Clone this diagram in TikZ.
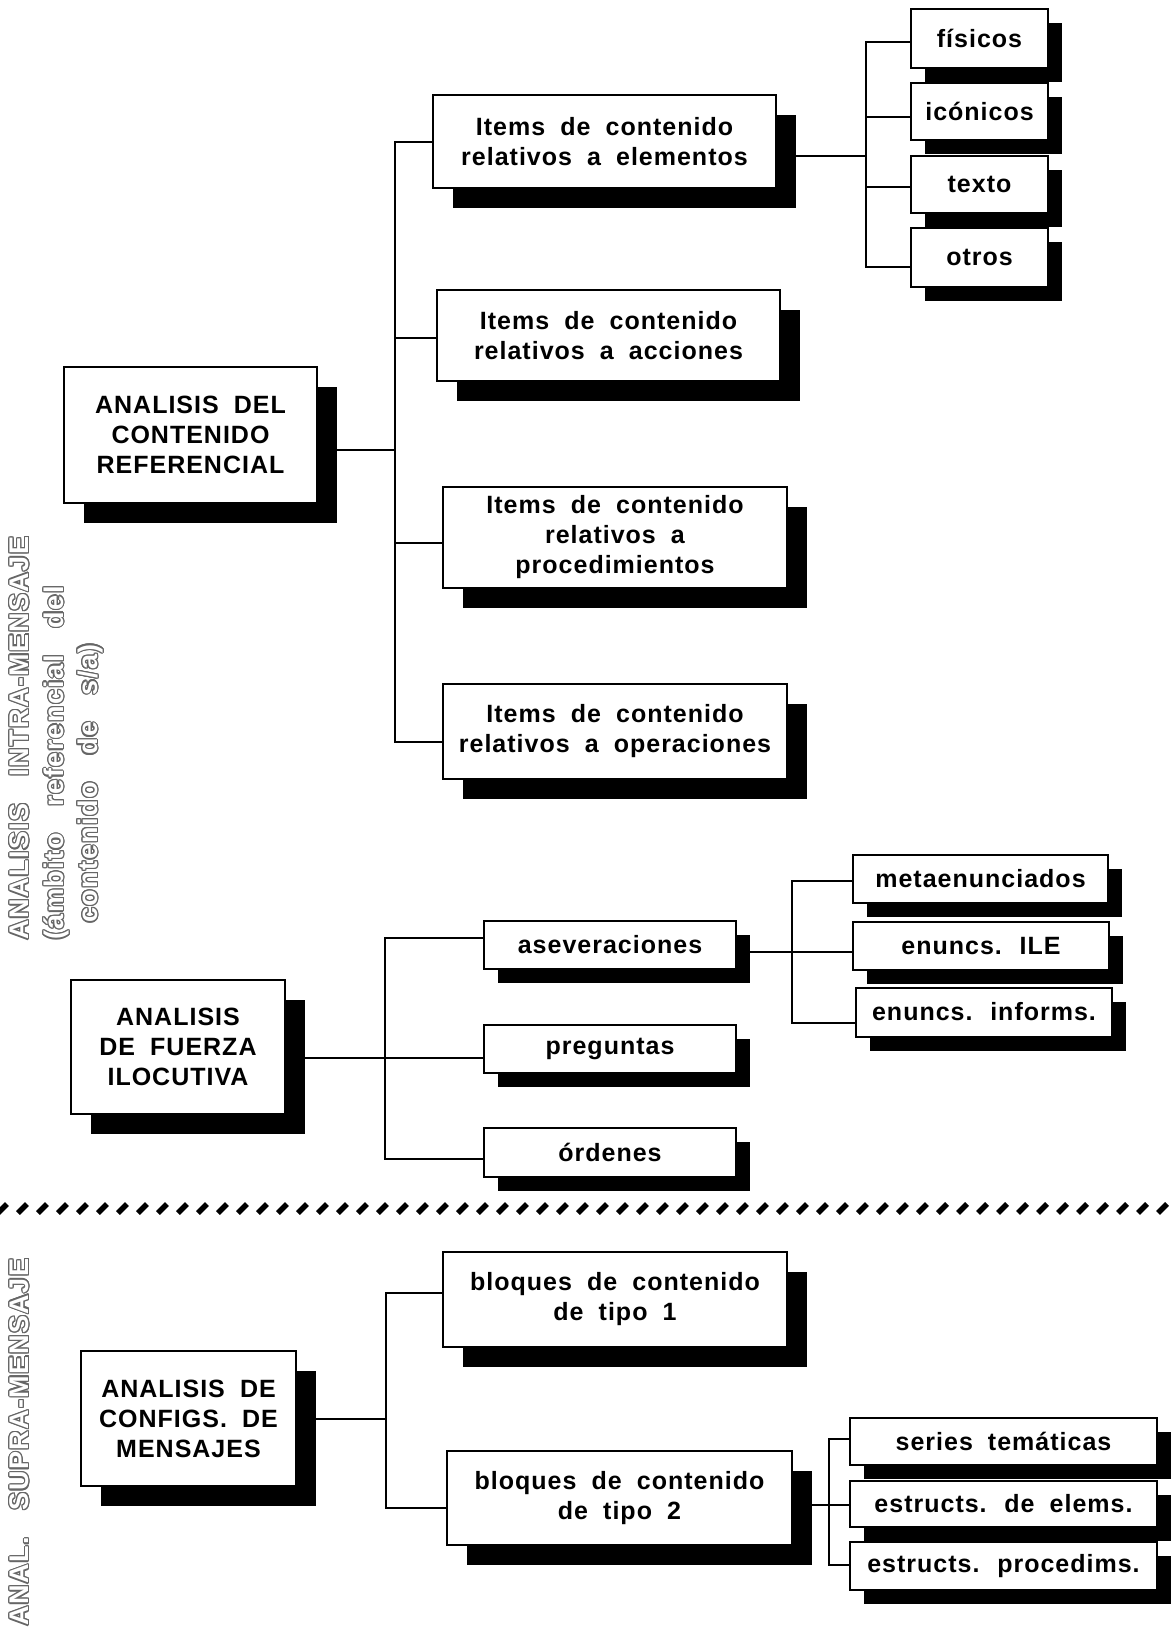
\documentclass[tikz,border=0pt]{standalone}
\usepackage{fontspec}
\usepackage{xcolor}
\usepackage{tikz}
\usepackage{contour}
\usetikzlibrary{shadows}
\setmainfont{Liberation Sans}
\newfontfamily\boxfont{Liberation Sans}[LetterSpace=4,WordSpace=1.9]
\newfontfamily\sidefont{Liberation Sans}[LetterSpace=5.5,WordSpace=3]
\contourlength{1.2pt}
\newcommand{\hollow}[1]{{\color{white}\contour{black!60}{#1}}}

\tikzset{
  box/.style={draw, line width=2pt, fill=white, align=center, inner sep=0pt,
    font=\boxfont\bfseries\fontsize{25}{30}\selectfont},
  bigbox/.style={box,
    general shadow={fill=black, shadow xshift=20pt, shadow yshift=-20pt}},
  smallbox/.style={box,
    general shadow={fill=black, shadow xshift=14pt, shadow yshift=-14pt}},
  branch/.style={line width=2pt},
  sidelabel/.style={rotate=90, anchor=west, inner sep=0pt,
    font=\sidefont\bfseries\fontsize{27}{32}\selectfont},
  slash/.style={line width=5.5pt}
}

\begin{document}
\begin{tikzpicture}[x=1pt, y=-1pt]
\useasboundingbox (0,0) rectangle (1170,1629);

% ambito intra-mensaje
\node[bigbox, minimum width=253, minimum height=136] (referencial) at (190.5,435) {ANALISIS DEL\\CONTENIDO\\REFERENCIAL};
\node[bigbox, minimum width=343, minimum height=93] (elementos) at (604.5,141.5) {Items de contenido\\relativos a elementos};
\node[bigbox, minimum width=343, minimum height=91] (acciones) at (608.5,335.5) {Items de contenido\\relativos a acciones};
\node[bigbox, minimum width=344, minimum height=101] (procedimientos) at (615,537.5) {Items de contenido\\relativos a\\procedimientos};
\node[bigbox, minimum width=344, minimum height=95] (operaciones) at (615,731.5) {Items de contenido\\relativos a operaciones};

\node[smallbox, minimum width=137, minimum height=59] (fisicos) at (979.5,38.5) {físicos};
\node[smallbox, minimum width=137, minimum height=57] (iconicos) at (979.5,111.5) {icónicos};
\node[smallbox, minimum width=137, minimum height=57] (texto) at (979.5,184.5) {texto};
\node[smallbox, minimum width=137, minimum height=58] (otros) at (979.5,257.5) {otros};

\node[bigbox, minimum width=214, minimum height=134] (fuerza) at (178,1047) {ANALISIS\\DE FUERZA\\ILOCUTIVA};
\node[smallbox, minimum width=252, minimum height=48] (aseveraciones) at (610,945) {aseveraciones};
\node[smallbox, minimum width=252, minimum height=48] (preguntas) at (610,1049) {preguntas};
\node[smallbox, minimum width=252, minimum height=49] (ordenes) at (610,1152) {órdenes};

\node[smallbox, minimum width=255, minimum height=48] (metaenunciados) at (980.5,879) {metaenunciados};
\node[smallbox, minimum width=256, minimum height=48] (ile) at (981,946) {enuncs. ILE};
\node[smallbox, minimum width=256, minimum height=49] (informs) at (984,1012) {enuncs. informs.};

% ambito supra-mensaje
\node[bigbox, minimum width=215, minimum height=135] (configs) at (188.5,1418.5) {ANALISIS DE\\CONFIGS. DE\\MENSAJES};
\node[bigbox, minimum width=344, minimum height=95] (tipouno) at (615,1299.5) {bloques de contenido\\de tipo 1};
\node[bigbox, minimum width=345, minimum height=94] (tipodos) at (619.5,1498) {bloques de contenido\\de tipo 2};

\node[smallbox, minimum width=307, minimum height=47] (series) at (1003.5,1441.5) {series temáticas};
\node[smallbox, minimum width=307, minimum height=46] (elems) at (1003.5,1504) {estructs. de elems.};
\node[smallbox, minimum width=307, minimum height=48] (procedims) at (1003.5,1566) {estructs. procedims.};

% ramas
\coordinate (refjoin) at (395,450);
\draw[branch] (referencial.east |- refjoin) -- (refjoin);
\draw[branch] (elementos.west |- 0,142) -| (refjoin) |- (operaciones.west |- 0,742);
\draw[branch] (acciones.west |- 0,338) -- (refjoin |- 0,338);
\draw[branch] (procedimientos.west |- 0,543) -- (refjoin |- 0,543);

\coordinate (elemjoin) at (866,156);
\draw[branch] (elementos.east |- elemjoin) -- (elemjoin);
\draw[branch] (fisicos.west |- 0,42) -| (elemjoin) |- (otros.west |- 0,267);
\draw[branch] (iconicos.west |- 0,117) -- (elemjoin |- 0,117);
\draw[branch] (texto.west |- 0,187) -- (elemjoin |- 0,187);

\coordinate (fuerzajoin) at (385,1058);
\draw[branch] (fuerza.east |- fuerzajoin) -- (preguntas.west |- fuerzajoin);
\draw[branch] (aseveraciones.west |- 0,938) -| (fuerzajoin) |- (ordenes.west |- 0,1159);

\coordinate (asevjoin) at (792,952);
\draw[branch] (aseveraciones.east |- asevjoin) -- (ile.west |- asevjoin);
\draw[branch] (metaenunciados.west |- 0,881) -| (asevjoin) |- (informs.west |- 0,1023);

\coordinate (configjoin) at (386,1419);
\draw[branch] (configs.east |- configjoin) -- (configjoin);
\draw[branch] (tipouno.west |- 0,1293) -| (configjoin) |- (tipodos.west |- 0,1508);

\coordinate (tipojoin) at (829,1505);
\draw[branch] (tipodos.east |- tipojoin) -- (elems.west |- tipojoin);
\draw[branch] (series.west |- 0,1439) -| (tipojoin) |- (procedims.west |- 0,1565);

% separacion
\foreach \x in {-2,18,...,1160}
  \draw[slash] (\x,1213) -- ++(9,-9);

% rotulos laterales
\node[sidelabel] (intra) at (20,940) {\hollow{ANALISIS INTRA-MENSAJE}};
\node[sidelabel] (ambito) at (57,940) {\hollow{(ámbito referencial del}};
\node[sidelabel] (contenido) at (91,923) {\hollow{contenido de s/a)}};
\node[sidelabel] (supra) at (20,1626) {\hollow{ANAL. SUPRA-MENSAJE}};
\end{tikzpicture}
\end{document}
